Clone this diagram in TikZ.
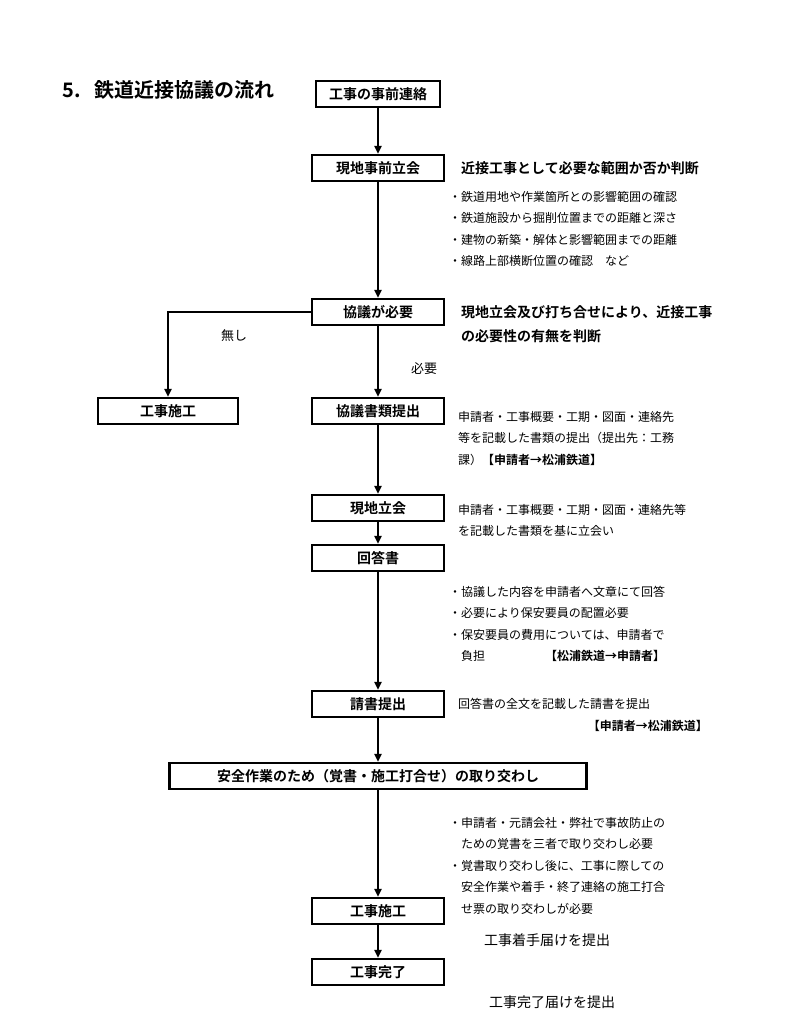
\documentclass[tikz,border=0pt]{standalone}
\usepackage{fontspec}
\setmainfont{Noto Sans CJK JP}[BoldFont={Noto Sans CJK JP Bold}]
\usetikzlibrary{arrows.meta,positioning}

\begin{document}
\begin{tikzpicture}[x=1pt,y=-1pt,
    stage/.style={draw, line width=2.2pt, minimum height=26, minimum width=132, inner sep=0,
      font=\bfseries\fontsize{14}{14}\selectfont},
    flow/.style={line width=2pt, -{Triangle[length=8pt,width=7pt]}},
    note/.style={anchor=north west, inner sep=0, align=left, font=\fontsize{12}{21.5}\selectfont},
    head/.style={anchor=north west, inner sep=0, align=left, font=\bfseries\fontsize{14}{24}\selectfont},
    plain/.style={inner sep=0, font=\fontsize{14}{14}\selectfont}]
        \useasboundingbox (0,0) rectangle (794,1024);
        % title
        \node[anchor=west, inner sep=0, font=\bfseries\fontsize{20}{20}\selectfont] (title) at (62,90)
          {5.\hspace{14pt}鉄道近接協議の流れ};
        % boxes of the flow
        \node[stage, minimum width=124] (contact) at (378,94) {工事の事前連絡};
        \node[stage] (site) at (378,168) {現地事前立会};
        \node[stage] (need) at (378,312) {協議が必要};
        \node[stage, minimum width=140] (worknone) at (168,411) {工事施工};
        \node[stage] (docs) at (378,411) {協議書類提出};
        \node[stage] (visit) at (378,508) {現地立会};
        \node[stage] (answer) at (378,558) {回答書};
        \node[stage] (pledge) at (378,704) {請書提出};
        \node[stage, minimum width=417] (safety) at (378,776) {安全作業のため（覚書・施工打合せ）の取り交わし};
        \node[stage] (work) at (378,911) {工事施工};
        \node[stage] (done) at (378,972) {工事完了};
        % arrows
        \draw[flow] (contact) -- (site);
        \draw[flow] (site) -- (need);
        \draw[flow] (need) -- (docs);
        \draw[flow] (need.west) -| (worknone.north);
        \draw[flow] (docs) -- (visit);
        \draw[flow] (visit) -- (answer);
        \draw[flow] (answer) -- (pledge);
        \draw[flow] (pledge) -- (safety);
        \draw[flow] (safety) -- (work);
        \draw[flow] (work) -- (done);
        % branch labels
        \node[plain, font=\fontsize{13}{13}\selectfont] (lblnone) at (234,336) {無し};
        \node[plain, font=\fontsize{13}{13}\selectfont] (lblneed) at (424,369) {必要};
        % remarks
        \node[head] (sitehead) at (461,161) {近接工事として必要な範囲か否か判断};
        \node[note] (sitenote) at (449,191) {・鉄道用地や作業箇所との影響範囲の確認\\
          ・鉄道施設から掘削位置までの距離と深さ\\
          ・建物の新築・解体と影響範囲までの距離\\
          ・線路上部横断位置の確認\hspace{12pt}など};
        \node[head] (needhead) at (461,305) {現地立会及び打ち合せにより、近接工事\\の必要性の有無を判断};
        \node[note] (docsnote) at (458,411) {申請者・工事概要・工期・図面・連絡先\\
          等を記載した書類の提出（提出先：工務\\
          課）\textbf{【申請者→松浦鉄道】}};
        \node[note] (visitnote) at (458,504) {申請者・工事概要・工期・図面・連絡先等\\
          を記載した書類を基に立会い};
        \node[note] (answernote) at (449,586) {・協議した内容を申請者へ文章にて回答\\
          ・必要により保安要員の配置必要\\
          ・保安要員の費用については、申請者で\\
          \hspace{12pt}負担\hspace{60pt}\textbf{【松浦鉄道→申請者】}};
        \node[note] (pledgenote) at (458,698) {回答書の全文を記載した請書を提出};
        \node[anchor=east, inner sep=0, font=\bfseries\fontsize{12}{12}\selectfont] (pledgeto) at (708,726)
          {【申請者→松浦鉄道】};
        \node[note] (safetynote) at (449,817) {・申請者・元請会社・弊社で事故防止の\\
          \hspace{12pt}ための覚書を三者で取り交わし必要\\
          ・覚書取り交わし後に、工事に際しての\\
          \hspace{12pt}安全作業や着手・終了連絡の施工打合\\
          \hspace{12pt}せ票の取り交わしが必要};
        \node[plain, anchor=west] (startnote) at (484,940) {工事着手届けを提出};
        \node[plain, anchor=west] (donenote) at (489,1002) {工事完了届けを提出};
    \end{tikzpicture}
\end{document}
